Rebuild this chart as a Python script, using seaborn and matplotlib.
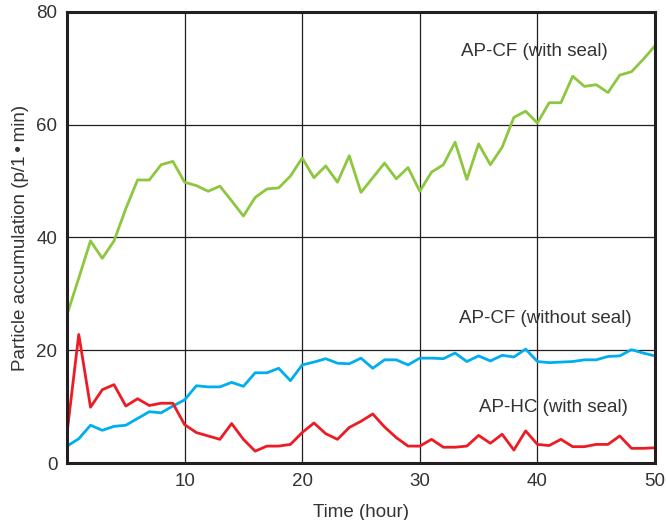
import pandas as pd
import matplotlib.pyplot as plt
import seaborn as sns

sns.set_style("white")
plt.rcParams['font.family'] = ['Liberation Sans', 'DejaVu Sans']

# Time (hour)
hours = list(range(0, 51))

# AP-CF (with seal)
cf_seal = [26.3, 32.8, 39.4, 36.3, 39.4, 45.1, 50.2, 50.2, 52.9, 53.5,
           49.8, 49.2, 48.2, 49.1, 46.5, 43.8, 47.1, 48.6, 48.8, 50.9,
           54.1, 50.6, 52.7, 49.8, 54.5, 48.0, 50.6, 53.2, 50.4, 52.4,
           48.2, 51.6, 52.9, 56.9, 50.3, 56.6, 52.9, 56.0, 61.3, 62.4,
           60.3, 63.9, 63.9, 68.6, 66.8, 67.1, 65.7, 68.8, 69.4, 71.6,
           74.0]

# AP-CF (without seal)
cf_noseal = [3.0, 4.3, 6.7, 5.8, 6.5, 6.7, 7.9, 9.1, 8.9, 10.1,
             11.2, 13.7, 13.5, 13.5, 14.3, 13.6, 16.0, 16.0, 16.8, 14.6,
             17.4, 17.9, 18.5, 17.7, 17.6, 18.6, 16.8, 18.3, 18.3, 17.4,
             18.6, 18.6, 18.5, 19.5, 18.0, 19.0, 18.1, 19.1, 18.8, 20.2,
             18.0, 17.8, 17.9, 18.0, 18.3, 18.3, 18.9, 19.0, 20.1, 19.5,
             19.0]

# AP-HC (with seal)
hc_seal = [5.3, 22.8, 9.9, 13.0, 13.9, 10.1, 11.4, 10.2, 10.6, 10.6,
           6.8, 5.4, 4.8, 4.2, 7.0, 4.2, 2.1, 3.0, 3.0, 3.3,
           5.4, 7.1, 5.2, 4.2, 6.3, 7.4, 8.7, 6.4, 4.5, 3.0,
           3.0, 4.2, 2.8, 2.8, 3.0, 4.9, 3.5, 5.1, 2.3, 5.7,
           3.3, 3.1, 4.2, 2.9, 2.9, 3.3, 3.3, 4.8, 2.6, 2.6,
           2.7]

df = pd.DataFrame({
    'hour': hours,
    'cf_seal': cf_seal,
    'cf_noseal': cf_noseal,
    'hc_seal': hc_seal,
})

fig = plt.figure(figsize=(6.66, 5.2), dpi=100)
ax = fig.add_axes([0.1006, 0.1096, 0.8829, 0.8674])

# grid first so lines are drawn on top
for gx in [10, 20, 30, 40]:
    ax.axvline(gx, color='#231F20', lw=0.9, zorder=1)
for gy in [20, 40, 60]:
    ax.axhline(gy, color='#231F20', lw=0.9, zorder=1)

sns.lineplot(data=df, x='hour', y='cf_seal', color='#8DC63F', lw=2.0, ax=ax, zorder=3)
sns.lineplot(data=df, x='hour', y='cf_noseal', color='#00AEEF', lw=2.0, ax=ax, zorder=3)
sns.lineplot(data=df, x='hour', y='hc_seal', color='#ED1C24', lw=2.0, ax=ax, zorder=3)

ax.set_xlim(0, 50)
ax.set_ylim(0, 80)
ax.set_xticks([10, 20, 30, 40, 50])
ax.set_yticks([0, 20, 40, 60, 80])
ax.tick_params(direction='in', length=5, width=2.2, colors='#231F20',
               labelsize=13.5, pad=7)
for t in ax.get_xticklabels() + ax.get_yticklabels():
    t.set_color('#333333')

for side in ['left', 'right', 'top', 'bottom']:
    ax.spines[side].set_linewidth(2.2)
    ax.spines[side].set_color('#231F20')
    ax.spines[side].set_zorder(5)

ax.set_xlabel("Time (hour)", fontsize=13.5, color='#333333', labelpad=10)
ax.set_ylabel("Particle accumulation (p/1\u2009\u2022\u2009min)", fontsize=13.5,
              color='#333333', labelpad=5)

ax.text(39.7, 73.0, "AP-CF (with seal)", fontsize=13.5, color='#333333',
        ha='center', va='center')
ax.text(40.7, 25.7, "AP-CF (without seal)", fontsize=13.5, color='#333333',
        ha='center', va='center', zorder=2)
ax.text(41.4, 9.8, "AP-HC (with seal)", fontsize=13.5, color='#333333',
        ha='center', va='center', zorder=2)

plt.savefig("out.png", dpi=100)
